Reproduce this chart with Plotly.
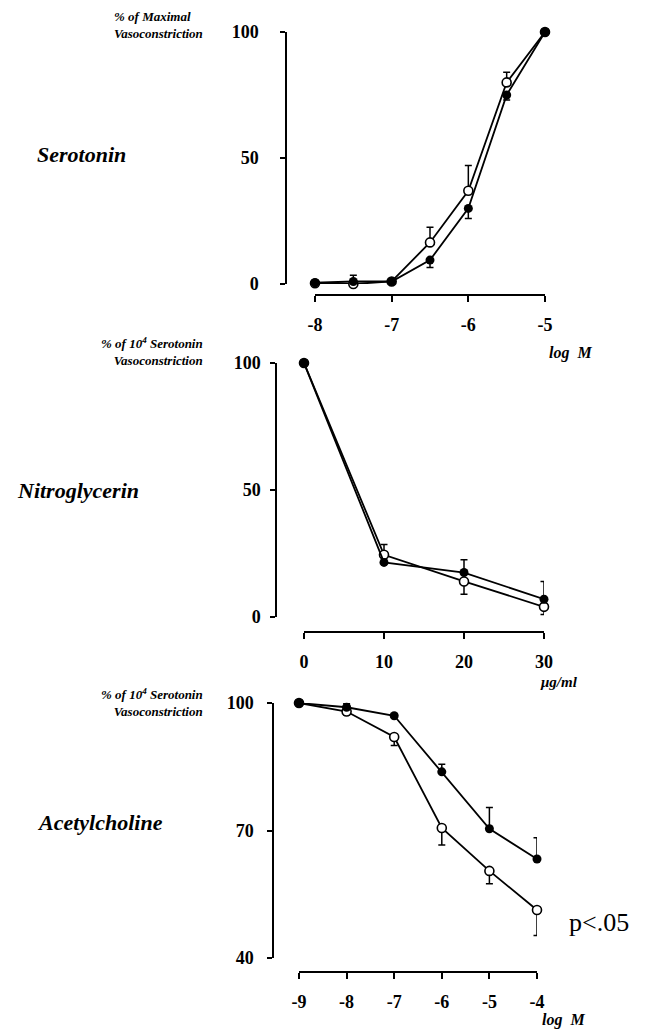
import plotly.graph_objects as go

# ---------------- data ----------------
# Panel 1: Serotonin (log M)
sero_x = [-8, -7.5, -7, -6.5, -6, -5.5, -5]
sero_filled = [0.5, 1, 1, 9.5, 30, 75, 100]
sero_filled_err_up = [0, 2.5, 0, 0, 0, 0, 0]
sero_filled_err_dn = [0, 0, 0, 3, 4, 2, 0]
sero_open = [0.3, 0, 1, 16.5, 37, 80, 100]
sero_open_err_up = [0, 0, 0, 6, 10, 4, 0]
sero_open_err_dn = [0, 0, 0, 0, 0, 0, 0]

# Panel 2: Nitroglycerin (ug/ml)
nitro_x = [0, 10, 20, 30]
nitro_filled = [100, 21.5, 17.5, 7]
nitro_filled_err_up = [0, 0, 5, 7]
nitro_filled_err_dn = [0, 0, 0, 0]
nitro_open = [100, 24.5, 14, 4]
nitro_open_err_up = [0, 4, 0, 0]
nitro_open_err_dn = [0, 0, 5, 3]

# Panel 3: Acetylcholine (log M)
ach_x = [-9, -8, -7, -6, -5, -4]
ach_filled = [100, 99, 97, 83.8, 70.4, 63.3]
ach_filled_err_up = [0, 0.8, 0.5, 1.8, 5, 5]
ach_filled_err_dn = [0, 0, 0, 0, 0, 0]
ach_open = [100, 98, 92, 70.6, 60.5, 51.3]
ach_open_err_up = [0, 0, 0, 0, 0, 0]
ach_open_err_dn = [0, 0.8, 2, 4, 3, 6]

sero_ticks = [-8, -7, -6, -5]
nitro_ticks = [0, 10, 20, 30]
ach_ticks = [-9, -8, -7, -6, -5, -4]
sero_yticks = [0, 50, 100]
nitro_yticks = [0, 50, 100]
ach_yticks = [40, 70, 100]

# ---------------- layout helpers ----------------
W, H = 649, 1036
OFF = 8  # page body margin


def px(x):
    return (x - OFF) / W


def py(y):
    return 1 - (y - OFF) / H


SERIF = "Liberation Serif, Times New Roman, serif"
fig = go.Figure()


def add_pair(x, filled, f_up, f_dn, opn, o_up, o_dn, xa, ya):
    fig.add_trace(go.Scatter(
        x=x, y=opn, mode="lines+markers", xaxis=xa, yaxis=ya, cliponaxis=False,
        line=dict(color="black", width=1.8),
        marker=dict(symbol="circle", size=9, color="white", line=dict(color="black", width=1.6)),
        error_y=dict(type="data", symmetric=False, array=o_up, arrayminus=o_dn,
                     color="black", thickness=1.5, width=3.5),
        showlegend=False))
    fig.add_trace(go.Scatter(
        x=x, y=filled, mode="lines+markers", xaxis=xa, yaxis=ya, cliponaxis=False,
        line=dict(color="black", width=1.8),
        marker=dict(symbol="circle", size=9, color="black"),
        error_y=dict(type="data", symmetric=False, array=f_up, arrayminus=f_dn,
                     color="black", thickness=1.5, width=3.5),
        showlegend=False))


add_pair(sero_x, sero_filled, sero_filled_err_up, sero_filled_err_dn,
         sero_open, sero_open_err_up, sero_open_err_dn, "x", "y")
add_pair(nitro_x, nitro_filled, nitro_filled_err_up, nitro_filled_err_dn,
         nitro_open, nitro_open_err_up, nitro_open_err_dn, "x2", "y2")
add_pair(ach_x, ach_filled, ach_filled_err_up, ach_filled_err_dn,
         ach_open, ach_open_err_up, ach_open_err_dn, "x3", "y3")

tickfont = dict(family=SERIF, size=18, color="black", weight="bold")


def xaxis(dom, pos, rng, ticks):
    return dict(domain=[px(dom[0]), px(dom[1])], anchor="free", position=py(pos),
                range=rng, tickvals=ticks, ticktext=[str(t) for t in ticks],
                showgrid=False, zeroline=False, showline=True, linecolor="black",
                linewidth=1.5, ticks="outside", ticklen=6, tickwidth=1.5,
                tickcolor="black", tickfont=tickfont, ticklabelstandoff=8,
                automargin=False, fixedrange=True)


def yaxis(dom, pos, rng, ticks, standoff):
    return dict(domain=[py(dom[1]), py(dom[0])], anchor="free", position=px(pos),
                range=rng, tickvals=ticks, showgrid=False, zeroline=False,
                showline=True, linecolor="black", linewidth=1.5, ticks="outside",
                ticklen=5, tickwidth=1.5, tickcolor="black", tickfont=tickfont,
                ticklabelstandoff=standoff, automargin=False, fixedrange=True)


fig.update_layout(
    width=W, height=H, margin=dict(l=0, r=0, t=0, b=0, pad=0, autoexpand=False),
    paper_bgcolor="white", plot_bgcolor="rgba(0,0,0,0)",
    xaxis=xaxis((315, 545), 295, [-8, -5], sero_ticks),
    yaxis=yaxis((32, 284), 286, [0, 100], sero_yticks, 18),
    xaxis2=xaxis((304, 544), 632, [0, 30], nitro_ticks),
    yaxis2=yaxis((363, 617), 276, [0, 100], nitro_yticks, 6),
    xaxis3=xaxis((299, 537), 972, [-9, -4], ach_ticks),
    yaxis3=yaxis((703, 958), 273, [40, 100], ach_yticks, 10),
)

ann = []


def text(x, y, s, size, xanchor="left", italic=True, bold=True, align="left", family=SERIF):
    ann.append(dict(x=px(x), y=py(y), xref="paper", yref="paper", text=s,
                    showarrow=False, xanchor=xanchor, yanchor="middle", align=align,
                    font=dict(family=family, size=size, color="black",
                              style="italic" if italic else "normal",
                              weight="bold" if bold else "normal")))


# drug names
text(35, 154, "Serotonin", 22)
text(15, 490, "Nitroglycerin", 22)
text(35, 822, "Acetylcholine", 22)

# y-axis titles
text(205, 25, "% of Maximal<br>Vasoconstriction", 13, xanchor="right", align="left")
text(205, 351, "% of 10<sup>4</sup> Serotonin<br>Vasoconstriction", 13, xanchor="right", align="right")
text(205, 702, "% of 10<sup>4</sup> Serotonin<br>Vasoconstriction", 13, xanchor="right", align="right")

# x-axis unit labels
text(547, 353, "log  M", 16)
text(538, 682, "μg/ml", 15)
text(540, 1020, "log  M", 16)

# significance
text(567, 922, "p&lt;.05", 26, italic=False, bold=False)

fig.update_layout(annotations=ann)
fig.write_html("out.html")
